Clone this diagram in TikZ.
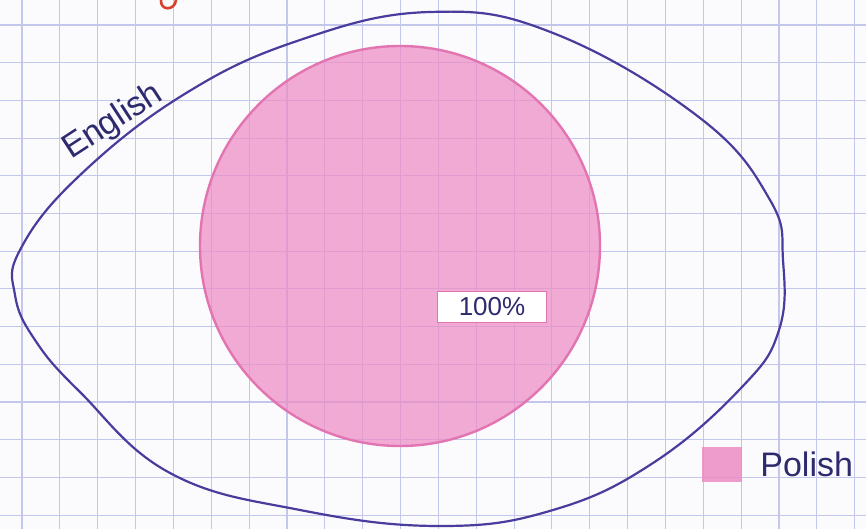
\documentclass[tikz,border=0pt]{standalone}
\usepackage{fontspec}
\setmainfont{Liberation Sans}
\usepackage{xcolor}
\usetikzlibrary{positioning}
\definecolor{paper}{HTML}{FBFBFD}
\definecolor{gridblue}{HTML}{C3C7EC}
\definecolor{pen}{HTML}{4A3C9C}
\definecolor{penink}{HTML}{2E2A6E}
\definecolor{crayon}{HTML}{EC8CC4}
\definecolor{crayonedge}{HTML}{E374B2}
\definecolor{redink}{HTML}{D8402E}
\tikzset{
  gridline/.style={draw=gridblue,line width=1.1pt},
  outline/.style={draw=pen,line width=2.2pt,line join=round},
  blob/.style={circle,fill=crayon,fill opacity=0.72,draw=crayonedge,
               line width=2.4pt,minimum size=400pt,inner sep=0pt},
  pctbox/.style={draw=crayonedge,fill=white,line width=1.6pt,
                 minimum width=109pt,minimum height=31pt,inner sep=0pt,
                 text=penink,font=\fontsize{26}{30}\selectfont},
  keybox/.style={fill=crayon,fill opacity=0.85,minimum width=40pt,
                 minimum height=35pt,inner sep=0pt},
  handtext/.style={text=penink,inner sep=0pt,
                   font=\fontsize{34}{40}\selectfont}
}
\begin{document}
\begin{tikzpicture}[x=1pt,y=-1pt]
    \path[use as bounding box,fill=paper] (0,0) rectangle (866,529);

    % squared paper
    \foreach \gx in {0,...,22}{
      \draw[gridline] ({22+37.85*\gx},0) -- ++(0,529);
    }
    \foreach \gy in {0,...,13}{
      \draw[gridline] (0,{25+37.7*\gy}) -- ++(866,0);
    }

    % cut-off title letter
    \draw[redink,line width=2.6pt,line cap=round]
      (161,0) .. controls (160,11) and (175,11) .. (176,0);

    % English set
    \draw[outline] plot[smooth cycle,tension=0.7] coordinates {
      (20,250) (15,295) (35,340) (80,392) (170,473) (300,510)
      (440,526) (553,510) (653,463) (742,387) (779,330) (783,260)
      (770,200) (700,118) (553,33) (430,12) (300,40) (183,95)
      (77,178)};
    \node[handtext,rotate=33] (englabel) at (113,122) {English};

    % Polish set
    \node[blob] (polset) at (400,246) {};
    \node[pctbox] (pct) at (492,307) {100\%};

    % key
    \node[keybox] (polkey) at (722,464) {};
    \node[handtext,right=18pt of polkey] (polname) {Polish};
  \end{tikzpicture}
\end{document}
